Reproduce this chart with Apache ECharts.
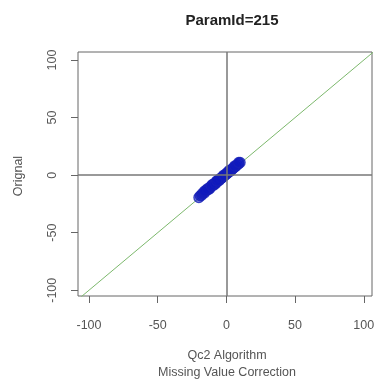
<!DOCTYPE html>
<html>
<head>
<meta charset="utf-8">
<script src="https://cdn.jsdelivr.net/npm/echarts@6/dist/echarts.min.js"></script>
<style>
  html, body { margin: 0; padding: 0; background: #fff; }
  #main { width: 380px; height: 384px; }
</style>
</head>
<body>
<div id="main"></div>
<script>
// values
const chartTitle = 'ParamId=215'
const xTicks = [-100, -50, 0, 50, 100]
const yTicks = [-100, -50, 0, 50, 100]
const qc2Values = [-20, -19, -18, -17.5, -16, -15, -14, -13, -12.5, -12, -11, -10, -9.5, -9, -8, -7.5, -7, -6, -5.5, -5, -4, -3.5, -3, -2, -1.5, -1, 0, 0.5, 1, 2, 2.5, 3, 4, 4.5, 5, 6, 6.5, 7, 8, 9, 10, -14, -10, -6, -3, 1, 3, -8, -4, 0, -16, -11, -7, -2, 2, 6, 9]
const originalValues = [-19.5, -18, -17.5, -16, -15.5, -13.5, -13, -12.5, -11, -11.5, -9.5, -9, -8, -8.5, -6.5, -7, -5.5, -5, -4, -4.5, -3, -2.5, -2, -1, -0.5, 0, 1, 1.5, 2, 3, 3.5, 3.5, 5, 5.5, 6, 7, 7.5, 8, 9, 10, 11, -12, -8, -4.5, -1.5, 2.5, 4.5, -7, -2.5, 1.5, -14, -9.5, -5, 0, 4, 8, 11]
const diagonal = [[-130, -130], [130, 130]]

const points = qc2Values.map((v, i) => [v, originalValues[i]])

const myChart = echarts.init(document.getElementById('main'))

const textColor = '#555'
const font = 'Liberation Sans, Arial, sans-serif'

myChart.setOption({
  animation: false,
  title: {
    text: chartTitle,
    left: 227,
    top: 8,
    textAlign: 'center',
    textStyle: { fontFamily: font, fontSize: 15, fontWeight: 'bold', color: '#222' }
  },
  grid: {
    left: 78, right: 8, top: 52, bottom: 88,
    show: true, borderColor: '#666', borderWidth: 1, backgroundColor: '#fff'
  },
  xAxis: {
    type: 'value', min: -108, max: 106,
    splitLine: { show: false },
    axisLine: { show: false, onZero: false },
    axisTick: { show: true, inside: false, length: 7, customValues: xTicks, lineStyle: { color: '#666' } },
    axisLabel: { customValues: xTicks, margin: 23, color: textColor, fontFamily: font, fontSize: 12.5 }
  },
  yAxis: {
    type: 'value', min: -105, max: 107,
    splitLine: { show: false },
    axisLine: { show: false, onZero: false },
    axisTick: { show: true, inside: false, length: 7, customValues: yTicks, lineStyle: { color: '#666' } },
    axisLabel: { customValues: yTicks, rotate: 90, margin: 19, color: textColor, fontFamily: font, fontSize: 12.5 }
  },
  graphic: [
    {
      type: 'text', x: 19, y: 176, rotation: Math.PI / 2,
      style: { text: 'Orignal', fill: textColor, font: '12.5px ' + font, textAlign: 'center', textVerticalAlign: 'middle' }
    },
    {
      type: 'text', x: 227, y: 356,
      style: { text: 'Qc2 Algorithm', fill: textColor, font: '12.5px ' + font, textAlign: 'center', textVerticalAlign: 'middle' }
    },
    {
      type: 'text', x: 227, y: 373,
      style: { text: 'Missing Value Correction', fill: textColor, font: '12.5px ' + font, textAlign: 'center', textVerticalAlign: 'middle' }
    }
  ],
  series: [
    {
      type: 'line',
      data: diagonal,
      symbol: 'none',
      clip: true,
      lineStyle: { color: '#7cb86c', width: 1 },
      markLine: {
        silent: true,
        symbol: 'none',
        label: { show: false },
        lineStyle: { color: '#777', type: 'solid', width: 1.5 },
        data: [{ xAxis: 0 }, { yAxis: 0 }]
      },
      z: 2
    },
    {
      type: 'scatter',
      data: points,
      symbol: 'circle',
      symbolSize: 10,
      itemStyle: { color: 'rgba(15,25,190,0.7)', borderColor: '#1820b8', borderWidth: 1.3 },
      z: 3
    }
  ]
})
</script>
</body>
</html>
